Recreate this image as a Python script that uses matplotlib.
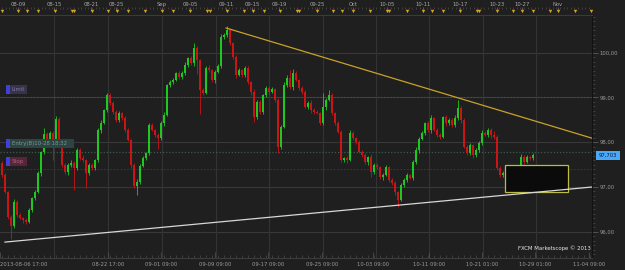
import matplotlib
matplotlib.use("Agg")
import matplotlib.pyplot as plt
import numpy as np
from matplotlib.patches import Rectangle
from matplotlib.ticker import MultipleLocator

# USD/JPY style candles, one bar per x unit (first bar 2013-08-06 17:00)
first_open = 97.54
closes = [
    97.27, 96.89, 96.33, 96.13, 96.67, 96.38, 96.31, 96.26, 96.22, 96.49,
    96.75, 96.89, 97.31, 97.78, 98.18, 98.05, 98.21, 98.05, 98.52, 98.05,
    97.49, 97.33, 97.49, 97.54, 97.42, 97.83, 97.65, 97.60, 97.31, 97.49,
    97.42, 97.60, 98.27, 98.43, 98.72, 99.05, 98.88, 98.67, 98.50, 98.65,
    98.54, 98.27, 98.05, 97.49, 97.02, 97.11, 97.47, 97.65, 97.76, 98.38,
    98.27, 98.16, 98.09, 98.43, 98.61, 99.28, 99.34, 99.39, 99.54, 99.46,
    99.54, 99.72, 99.88, 99.77, 100.10, 99.83, 99.17, 99.10, 99.66, 99.61,
    99.39, 99.57, 99.70, 100.35, 100.39, 100.50, 100.21, 99.90, 99.50, 99.61,
    99.50, 99.66, 99.34, 99.12, 98.56, 98.90, 98.67, 99.05, 99.21, 99.12,
    99.19, 98.94, 97.89, 98.34, 99.28, 99.43, 99.23, 99.54, 99.39, 99.21,
    99.12, 98.79, 98.88, 98.72, 98.67, 98.65, 98.43, 98.79, 98.94, 99.05,
    98.65, 98.43, 98.23, 97.60, 97.65, 97.60, 98.21, 98.09, 98.00, 97.78,
    97.71, 97.56, 97.67, 97.33, 97.49, 97.45, 97.22, 97.27, 97.45, 97.16,
    97.09, 96.89, 96.71, 97.04, 97.16, 97.27, 97.20, 97.56, 97.83, 98.07,
    98.21, 98.43, 98.27, 98.54, 98.27, 98.16, 98.12, 98.56, 98.43, 98.50,
    98.38, 98.54, 98.76, 98.50, 97.89, 97.76, 97.94, 97.71, 97.83, 97.98,
    98.21, 98.16, 98.27, 98.16, 98.12, 97.42, 97.27, 97.31, 97.38, 97.25,
    96.98, 97.33, 97.45, 97.67, 97.56, 97.67, 97.65, 97.71,
]
# wick lengths above / below the body, in hundredths
wick_up = [
    3, 4, 2, 5, 6, 3, 4, 3, 5, 4,
    3, 4, 5, 3, 14, 4, 5, 3, 6, 4,
    3, 5, 4, 6, 3, 5, 4, 6, 3, 4,
    5, 3, 4, 6, 3, 5, 4, 3, 5, 4,
    3, 5, 4, 3, 4, 6, 5, 4, 3, 6,
    4, 3, 5, 4, 6, 3, 5, 4, 3, 5,
    4, 6, 3, 5, 11, 4, 3, 5, 4, 6,
    3, 5, 4, 6, 5, 9, 4, 3, 5, 4,
    3, 5, 4, 3, 6, 4, 5, 3, 4, 5,
    4, 3, 5, 4, 6, 8, 18, 10, 5, 3,
    4, 5, 3, 6, 4, 5, 3, 30, 5, 12,
    4, 3, 5, 4, 3, 5, 6, 4, 3, 5,
    4, 5, 3, 6, 4, 5, 3, 4, 5, 3,
    4, 5, 3, 6, 4, 5, 3, 4, 6, 4,
    5, 3, 4, 6, 3, 5, 4, 3, 5, 4,
    3, 6, 18, 4, 3, 5, 4, 3, 5, 4,
    6, 3, 5, 4, 10, 3, 5, 4, 6, 3,
    4, 5, 3, 6, 4, 5, 3, 4,
]
wick_dn = [
    4, 3, 5, 30, 4, 5, 3, 6, 4, 3,
    5, 4, 3, 6, 4, 5, 3, 45, 4, 6,
    5, 3, 6, 4, 49, 3, 5, 4, 33, 4,
    3, 5, 4, 6, 3, 5, 4, 3, 5, 4,
    5, 4, 3, 6, 5, 20, 4, 3, 5, 4,
    3, 5, 25, 4, 6, 3, 5, 4, 3, 5,
    4, 3, 5, 4, 6, 30, 54, 4, 3, 5,
    4, 6, 3, 5, 4, 3, 5, 4, 6, 3,
    5, 4, 3, 6, 11, 4, 5, 3, 4, 6,
    3, 5, 13, 4, 3, 5, 4, 6, 3, 5,
    4, 3, 5, 6, 4, 3, 5, 4, 6, 3,
    5, 4, 3, 5, 4, 6, 3, 5, 4, 3,
    5, 4, 6, 10, 3, 5, 4, 6, 3, 5,
    4, 6, 16, 3, 5, 4, 3, 5, 4, 6,
    3, 5, 4, 6, 3, 5, 4, 3, 6, 4,
    5, 3, 4, 6, 3, 5, 4, 6, 3, 5,
    4, 3, 5, 6, 4, 3, 5, 4, 3, 6,
    5, 4, 3, 5, 4, 3, 5, 4,
]

price_ticks = [96, 97, 98, 99, 100]
price_labels = ["96,00", "97,00", "98,00", "99,00", "100,00"]

bottom_pos = [-0.6, 35.3, 53.0, 71.0, 88.7, 106.7, 123.7, 142.3, 160.0, 177.7, 195.7]
bottom_labels = ["2013-08-06 17:00", "08-22 17:00", "09-01 09:00", "09-09 09:00",
                 "09-17 09:00", "09-25 09:00", "10-03 09:00", "10-11 09:00",
                 "10-21 01:00", "10-29 01:00", "11-04 09:00"]
grid_x = [17.3, 35.3, 53.3, 71.3, 89.0, 107.0, 124.7, 142.3, 160.3, 178.0]

top_pos = [5.3, 17.3, 29.7, 38.0, 53.3, 62.7, 74.7, 83.3, 92.3, 105.0, 117.0,
           128.3, 140.3, 152.7, 165.0, 173.3, 185.3]
top_labels = ["08-09", "08-15", "08-21", "08-25", "Sep", "09-05", "09-11", "09-15",
              "09-19", "09-25", "Oct", "10-05", "10-11", "10-17", "10-23", "10-27", "Nov"]

event_x = [0, 5.3, 8.3, 12, 17.7, 23.3, 24, 30, 35.3, 38.3, 42, 47.7, 53.3, 57,
           62.7, 68.3, 69.3, 75, 80.7, 83.7, 87.3, 92.7, 98.3, 99, 105, 110.3,
           113.3, 117, 122.7, 128.3, 129, 135, 140.3, 143.3, 147, 152.7, 158.3,
           159, 165, 170.3, 173.3, 177, 182.7, 185.3, 191, 196.3]

limit_price = 99.00
entry_price = 97.78
stop_price = 97.40
last_price = 97.703

res_x, res_y = [74.7, 196.7], [100.55, 98.09]
sup_x, sup_y = [1.0, 196.7], [95.77, 97.00]
box_x, box_y = (167.7, 188.7), (96.89, 97.49)

W, H = 625, 270
BG = "#1f1f1f"
GREEN, RED = "#1ec81e", "#cc1414"
TXT = "#9a9a9a"
XLIM = (-0.67, 196.7)

fig = plt.figure(figsize=(W / 100, H / 100), dpi=100, facecolor=BG)
ax = fig.add_axes([0, 1 - 258 / H, 592 / W, (258 - 15) / H], facecolor=BG)

x = np.arange(len(closes))
close = np.array(closes)
opens = np.r_[first_open, close[:-1]]
up = close >= opens
colors = np.where(up, GREEN, RED)
highs = np.maximum(opens, close) + np.array(wick_up) / 100
lows = np.minimum(opens, close) - np.array(wick_dn) / 100

# grid
for p in price_ticks:
    ax.axhline(p, color="#383838", lw=0.8, zorder=0)
for g in grid_x:
    ax.axvline(g, color="#333333", lw=0.8, zorder=0)

# order lines
ax.axhline(limit_price, color="#4e4e4e", lw=0.6, ls=(0, (2, 2)), zorder=1)
ax.axhline(entry_price, color="#35604a", lw=0.9, ls=(0, (1, 1.5)), zorder=1)
ax.axhline(stop_price, color="#6e2828", lw=0.6, ls=(0, (2, 2)), zorder=1)

# candles
ax.vlines(x, lows, highs, colors=colors, lw=0.6, zorder=2)
body = np.maximum(np.abs(close - opens), 0.012)
ax.bar(x, body, bottom=np.minimum(opens, close), width=0.8, color=colors,
       lw=0, zorder=3)

# trend lines and box
ax.plot(res_x, res_y, color="#c9a227", lw=0.9, zorder=4)
ax.plot(sup_x, sup_y, color="#d8d8d8", lw=0.9, zorder=4)
ax.add_patch(Rectangle((box_x[0], box_y[0]), box_x[1] - box_x[0], box_y[1] - box_y[0],
                       facecolor="#0b0b0b", edgecolor="#bcbc44", lw=0.9, zorder=3.5))

ax.set_xlim(*XLIM)
ax.set_ylim(95.415, 100.84)

ax.yaxis.tick_right()
ax.set_yticks(price_ticks)
ax.set_yticklabels(price_labels)
ax.yaxis.set_minor_locator(MultipleLocator(0.1))
ax.tick_params(axis="y", which="major", colors="#5a5a5a", labelcolor=TXT,
               labelsize=3.8, length=4, width=0.6, pad=1.5)
ax.tick_params(axis="y", which="minor", colors="#4a4a4a", length=2, width=0.5)

ax.set_xticks(bottom_pos)
ax.set_xticklabels(bottom_labels)
ax.get_xticklabels()[0].set_horizontalalignment("left")
ax.xaxis.set_minor_locator(MultipleLocator(2))
ax.tick_params(axis="x", which="major", direction="in", colors="#555555",
               labelcolor=TXT, labelsize=3.8, length=4, width=0.5, pad=3)
ax.tick_params(axis="x", which="minor", direction="in", colors="#4a4a4a",
               length=2, width=0.5)

for s in ["left", "top"]:
    ax.spines[s].set_visible(False)
ax.spines["bottom"].set_color("#3c3c3c")
ax.spines["right"].set_color("#111111")

# top date strip with event markers
axt = fig.add_axes([0, 1 - 15 / H, 592 / W, 8 / H], facecolor=BG)
axt.set_xlim(*XLIM)
axt.set_ylim(0, 1)
axt.scatter(event_x, [0.55] * len(event_x), marker="v", s=6, color="#d9a521",
            lw=0, zorder=3)
axt.xaxis.tick_top()
axt.set_xticks(top_pos)
axt.set_xticklabels(top_labels)
axt.xaxis.set_minor_locator(MultipleLocator(1.2))
axt.tick_params(axis="x", which="major", direction="in", colors="#6a6a6a",
                labelcolor="#a8a8a8", labelsize=3.8, length=3, width=0.5, pad=0.3)
axt.tick_params(axis="x", which="minor", direction="in", top=True, bottom=False,
                colors="#5a5a5a", length=1.5, width=0.4)
axt.set_yticks([])
for s in ["left", "right", "top"]:
    axt.spines[s].set_visible(False)
axt.spines["bottom"].set_color("#3a3a3a")


def px_box(x0, y0, x1, y1, color):
    fig.add_artist(Rectangle((x0 / W, 1 - y1 / H), (x1 - x0) / W, (y1 - y0) / H,
                             transform=fig.transFigure, facecolor=color, lw=0))


# order tags on the left
tags = [("Limit", 85, 27, "#37334d", "#7e7a9e"),
        ("Entry(B)10-28 18:32", 139, 74, "#2c4543", "#7a9692"),
        ("Stop", 157, 27, "#57243a", "#a8647f")]
for label, top, right, bg, fg in tags:
    px_box(10, top, right, top + 9, bg)
    px_box(6, top, 10, top + 9, "#4040d8")
    fig.text(12 / W, 1 - (top + 4.7) / H, label, color=fg, fontsize=3.9,
             va="center", ha="left")

# current price tag
px_box(596, 151, 620, 160, "#4aa8f8")
fig.text(608 / W, 1 - 155.6 / H, f"{last_price:.3f}".replace(".", ","),
         color="#0b1a36", fontsize=3.8, ha="center", va="center")

fig.text(518 / W, 1 - 248.5 / H, "FXCM Marketscope \u00a9 2013", color="#e6e6e6",
         fontsize=3.9, va="center", ha="left")

fig.savefig("out.png", dpi=100, facecolor=BG)
